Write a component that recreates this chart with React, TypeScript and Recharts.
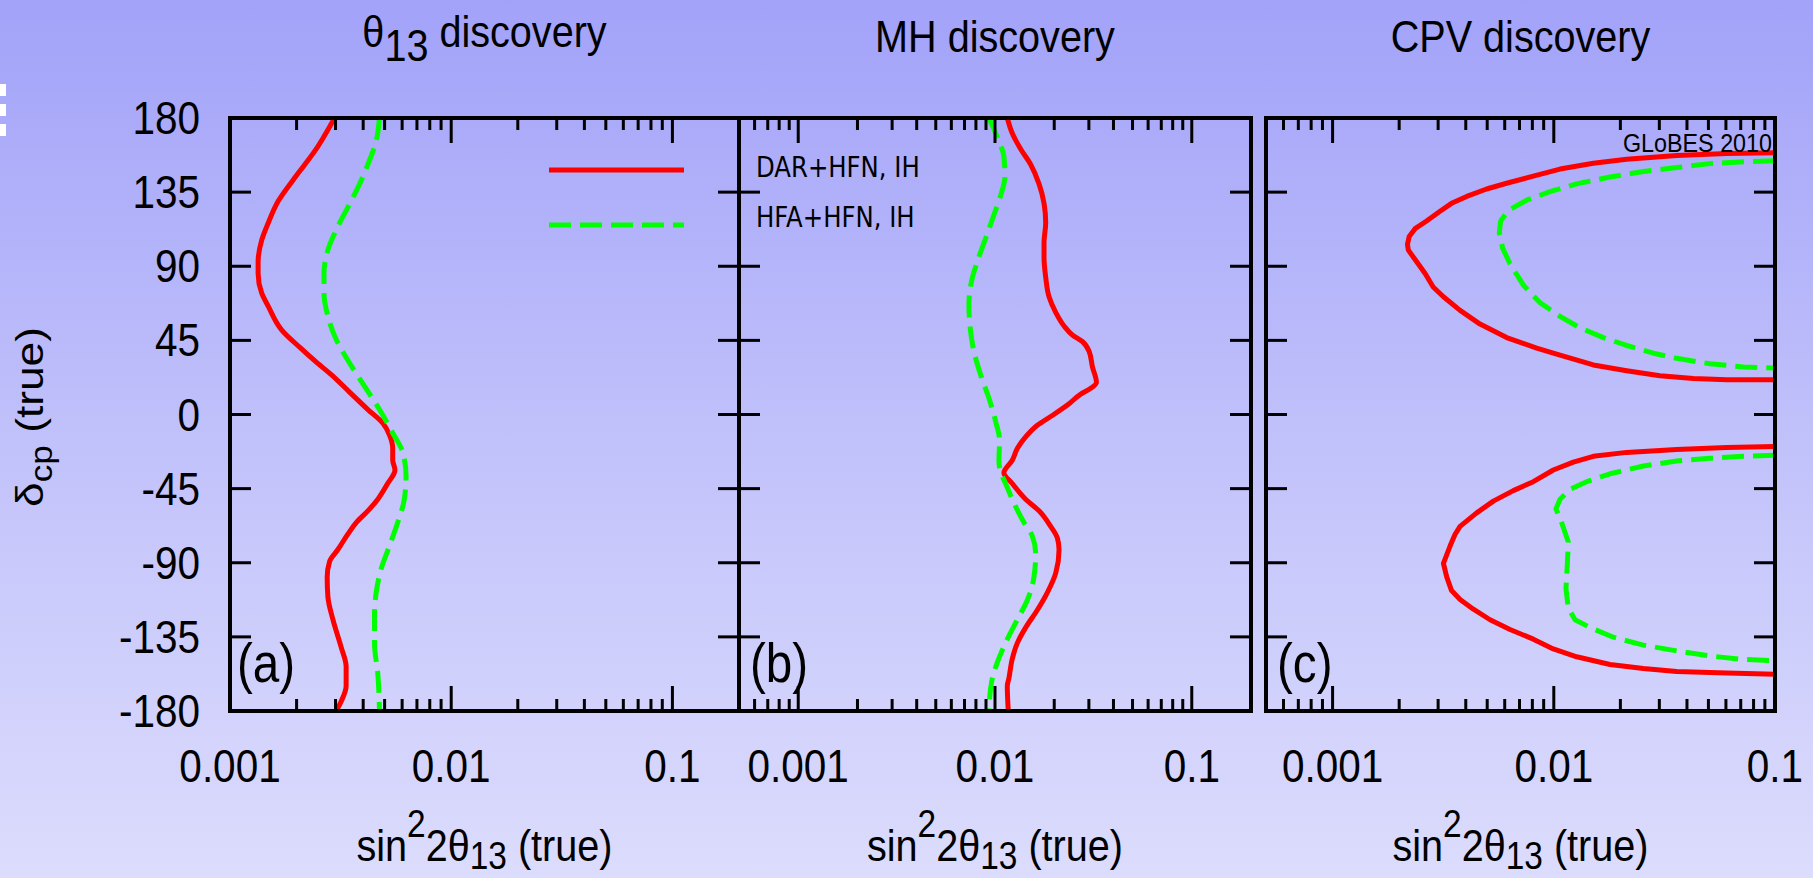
import React from 'react';
import { LineChart, Line, XAxis, YAxis } from 'recharts';

// page and plot frame
const W = 1813;
const H = 878;
const TOP = 118;
const BOTTOM = 711;
const AX = 1; // thickness reserved by each axis

// axis ticks
const deltaTicks = [-180, -135, -90, -45, 0, 45, 90, 135, 180];
const sLabels = [0.001, 0.01, 0.1];
const ticksA = [0.001, 0.002, 0.003, 0.004, 0.005, 0.006, 0.007, 0.008, 0.009, 0.01, 0.02, 0.03, 0.04, 0.05, 0.06, 0.07, 0.08, 0.09, 0.1];
const ticksB = [0.0006, 0.0007, 0.0008, 0.0009, 0.001, 0.002, 0.003, 0.004, 0.005, 0.006, 0.007, 0.008, 0.009, 0.01, 0.02, 0.03, 0.04, 0.05, 0.06, 0.07, 0.08, 0.09, 0.1];
const ticksC = [0.0006, 0.0007, 0.0008, 0.0009, 0.001, 0.002, 0.003, 0.004, 0.005, 0.006, 0.007, 0.008, 0.009, 0.01, 0.02, 0.03, 0.04, 0.05, 0.06, 0.07, 0.08, 0.09, 0.1];

// [sin^2 2theta13, delta_cp]
const thetaDar = [[0.00297, 180], [0.00268, 169.5], [0.00242, 160], [0.00218, 151.8], [0.00193, 142.4], [0.00165, 129.4], [0.00149, 116.4], [0.00139, 105.7], [0.00134, 92.7], [0.00134, 85.6], [0.00139, 73.8], [0.00149, 65.6], [0.00171, 51.4], [0.00207, 40.7], [0.00242, 32.5], [0.00287, 24.2], [0.00347, 13.6], [0.0042, 3], [0.00491, -5.3], [0.00526, -12.4], [0.00544, -20.7], [0.00544, -27.8], [0.00557, -33.7], [0.00516, -41.9], [0.00466, -51.4], [0.0042, -58.5], [0.00372, -65.6], [0.00341, -72.6], [0.00307, -82.1], [0.00282, -89.2], [0.00275, -98.6], [0.00277, -110.5], [0.00292, -124.6], [0.00318, -141.2], [0.00335, -153], [0.00335, -164.8], [0.00318, -174.2], [0.00302, -180]];
const thetaHfa = [[0.00474, 180], [0.00458, 166], [0.0042, 151.8], [0.00378, 137.6], [0.00341, 125.8], [0.00307, 114], [0.00277, 99.8], [0.00266, 85.6], [0.00266, 73.8], [0.00277, 59.7], [0.00302, 45.5], [0.00347, 31.3], [0.00406, 17.1], [0.00474, 3], [0.00544, -11.2], [0.00604, -23], [0.00625, -37.2], [0.00614, -51.4], [0.00573, -65.6], [0.00526, -79.7], [0.00482, -93.9], [0.00458, -108.1], [0.0045, -122.2], [0.0045, -138.8], [0.00466, -157.7], [0.00474, -180]];
const mhDar = [[0.01155, 180], [0.01224, 170.7], [0.0135, 161.2], [0.01518, 151.8], [0.01674, 140], [0.01775, 128.2], [0.0181, 116.4], [0.01775, 104.5], [0.01775, 95.1], [0.0181, 83.3], [0.01882, 71.5], [0.02035, 62], [0.02244, 53.7], [0.02474, 48.3], [0.0278, 44.3], [0.03007, 38.4], [0.03127, 28.9], [0.03277, 19.5], [0.03066, 15.9], [0.02728, 12.4], [0.02379, 6.5], [0.01956, -0.6], [0.01641, -6.5], [0.01431, -13.6], [0.01298, -20.7], [0.01224, -27.8], [0.0111, -35.3], [0.01224, -41.9], [0.01431, -51.4], [0.01674, -58.5], [0.01918, -67.9], [0.02075, -75], [0.02116, -82.1], [0.02035, -96.3], [0.01845, -108.1], [0.01641, -118.7], [0.01431, -129.4], [0.01298, -138.8], [0.01224, -148.3], [0.01177, -160.1], [0.01155, -164.8], [0.01168, -180]];
const mhHfa = [[0.00931, 180], [0.01027, 168.3], [0.0111, 156.5], [0.01124, 144.7], [0.01068, 132.9], [0.00987, 121.1], [0.00896, 106.9], [0.00812, 92.7], [0.0076, 80.9], [0.00737, 66.7], [0.00745, 54.9], [0.00781, 38.4], [0.00845, 24.2], [0.00931, 10], [0.01007, -4.1], [0.01055, -15.9], [0.01047, -27.8], [0.01068, -34.9], [0.01132, -41.9], [0.01249, -53.8], [0.01404, -65.6], [0.01548, -73.8], [0.0161, -84.5], [0.01578, -98.6], [0.01459, -112.8], [0.01298, -124.6], [0.01155, -136.4], [0.01027, -150.6], [0.00961, -162.4], [0.00931, -180]];
const cpvDarUpper = [[0.1, 158.9], [0.0605, 158.4], [0.03593, 157.2], [0.02135, 154.9], [0.01509, 152.5], [0.01067, 149], [0.00808, 144.7], [0.00612, 140.4], [0.00497, 136.9], [0.00404, 132.4], [0.00345, 128.2], [0.00306, 123.4], [0.00266, 117.5], [0.00236, 112.8], [0.00222, 108.1], [0.00218, 103.3], [0.0022, 99.8], [0.0024, 92.7], [0.00262, 85.6], [0.00285, 77.4], [0.00317, 71.5], [0.00377, 63.2], [0.00464, 54.9], [0.00612, 46.7], [0.00837, 40.3], [0.01067, 36], [0.01509, 30.1], [0.02135, 26.6], [0.0302, 23.5], [0.04274, 21.8], [0.0605, 21.1], [0.1, 21.1]];
const cpvHfaUpper = [[0.1, 154.1], [0.0719, 153.4], [0.0508, 152.3], [0.03593, 149.9], [0.02541, 147.5], [0.01795, 144.2], [0.01269, 140], [0.00961, 135.3], [0.00754, 130.1], [0.00623, 123.9], [0.00575, 117.5], [0.00567, 110.4], [0.00587, 101], [0.00634, 91.5], [0.00729, 78.5], [0.00866, 67.9], [0.01067, 59.6], [0.01314, 52.6], [0.01675, 46.7], [0.02135, 41.9], [0.02818, 37.2], [0.03593, 34.1], [0.0508, 30.8], [0.0719, 28.9], [0.1, 28.2]];
const cpvDarLower = [[0.1, -19.5], [0.0605, -20], [0.03593, -21.2], [0.02135, -23], [0.01509, -25.4], [0.01226, -28.9], [0.00995, -33.7], [0.00808, -40.8], [0.00656, -46.2], [0.00533, -52.6], [0.00448, -59.7], [0.00377, -67.9], [0.00358, -72.7], [0.0034, -79.7], [0.00317, -90.4], [0.00328, -98.6], [0.00345, -106.9], [0.00377, -112.3], [0.00433, -118.2], [0.00515, -124.6], [0.00634, -130.5], [0.00808, -136.4], [0.00995, -142.3], [0.01269, -147.1], [0.01795, -151.8], [0.02541, -154.2], [0.03593, -156], [0.0605, -157], [0.1, -157.7]];
const cpvHfaLower = [[0.1, -24.7], [0.0719, -25.4], [0.0508, -26.6], [0.03593, -28.2], [0.02541, -31.3], [0.01795, -36], [0.01408, -40.8], [0.01183, -45.5], [0.01067, -51.4], [0.01023, -57.3], [0.01085, -65.6], [0.01163, -77.4], [0.01151, -91.5], [0.01135, -105.7], [0.01163, -117.5], [0.01247, -124.6], [0.01458, -129.3], [0.01859, -135.2], [0.02541, -140], [0.03593, -143.5], [0.0508, -146.6], [0.0719, -148.7], [0.1, -149.4]];

const RED = '#ff0000';
const GREEN = '#00ff00';
const FONT = '"Liberation Sans", Arial, Helvetica, sans-serif';
const SX = 0.88;

const toRows = (pts: number[][]) => pts.map(([s, d]) => ({ s, d }));

type Series = { name: string; pts: number[][]; color: string; dashed: boolean };

const panels = [
  {
    id: 'a', left: 230, right: 739, domain: [0.001, 0.2], ticks: ticksA, yLabels: true, curve: 'monotoneY',
    series: [
      { name: 'thetaDar', pts: thetaDar, color: RED, dashed: false },
      { name: 'thetaHfa', pts: thetaHfa, color: GREEN, dashed: true },
    ] as Series[],
  },
  {
    id: 'b', left: 739, right: 1251, domain: [0.0005, 0.2], ticks: ticksB, yLabels: false, curve: 'monotoneY',
    series: [
      { name: 'mhDar', pts: mhDar, color: RED, dashed: false },
      { name: 'mhHfa', pts: mhHfa, color: GREEN, dashed: true },
    ] as Series[],
  },
  {
    id: 'c', left: 1266, right: 1775, domain: [0.0005, 0.1], ticks: ticksC, yLabels: false, curve: 'linear',
    series: [
      { name: 'cpvDarUpper', pts: cpvDarUpper, color: RED, dashed: false },
      { name: 'cpvHfaUpper', pts: cpvHfaUpper, color: GREEN, dashed: true },
      { name: 'cpvDarLower', pts: cpvDarLower, color: RED, dashed: false },
      { name: 'cpvHfaLower', pts: cpvHfaLower, color: GREEN, dashed: true },
    ] as Series[],
  },
];

const Condensed = ({ x, y, size, anchor = 'start', children, family = FONT, k = SX }: any) => (
  <text transform={`translate(${x},${y}) scale(${k},1)`} fontSize={size} fontFamily={family} textAnchor={anchor} fill="#000">
    {children}
  </text>
);

const bottomTick = (props: any) => {
  const { x, payload } = props;
  const major = sLabels.includes(payload.value);
  return (
    <g>
      <line x1={x} x2={x} y1={BOTTOM} y2={BOTTOM - (major ? 25 : 12)} stroke="#000" strokeWidth={3} />
      {major && <Condensed x={x} y={782} size={46} anchor="middle">{String(payload.value)}</Condensed>}
    </g>
  );
};

const topTick = (props: any) => {
  const { x, payload } = props;
  const major = sLabels.includes(payload.value);
  return <line x1={x} x2={x} y1={TOP} y2={TOP + (major ? 25 : 12)} stroke="#000" strokeWidth={3} />;
};

const leftTick = (left: number, labels: boolean) => (props: any) => {
  const { y, payload } = props;
  return (
    <g>
      <line x1={left} x2={left + 21} y1={y} y2={y} stroke="#000" strokeWidth={3} />
      {labels && <Condensed x={200} y={y + 16} size={46} anchor="end">{String(payload.value)}</Condensed>}
    </g>
  );
};

const rightTick = (right: number) => (props: any) => {
  const { y } = props;
  return <line x1={right} x2={right - 21} y1={y} y2={y} stroke="#000" strokeWidth={3} />;
};

const Frame = ({ left, right }: { left: number; right: number }) => (
  <rect x={left} y={TOP} width={right - left} height={BOTTOM - TOP} fill="none" stroke="#000" strokeWidth={4} />
);

const Panel = ({ p }: { p: (typeof panels)[number] }) => (
  <div style={{ position: 'absolute', left: 0, top: 0 }}>
    <LineChart width={W} height={H} margin={{ top: TOP - AX, bottom: H - BOTTOM - AX, left: p.left - AX, right: W - p.right - AX }}>
      <XAxis xAxisId="bottom" orientation="bottom" dataKey="s" type="number" scale="log" domain={p.domain} allowDataOverflow
        ticks={p.ticks} interval={0} height={AX} tickSize={0} tickMargin={0} tickLine={false} axisLine={false} tick={bottomTick} />
      <XAxis xAxisId="top" orientation="top" dataKey="s" type="number" scale="log" domain={p.domain} allowDataOverflow
        ticks={p.ticks} interval={0} height={AX} tickSize={0} tickMargin={0} tickLine={false} axisLine={false} tick={topTick} />
      <YAxis yAxisId="left" orientation="left" type="number" domain={[-180, 180]} allowDataOverflow ticks={deltaTicks}
        interval={0} width={AX} tickSize={0} tickMargin={0} tickLine={false} axisLine={false} tick={leftTick(p.left, p.yLabels)} />
      <YAxis yAxisId="right" orientation="right" type="number" domain={[-180, 180]} allowDataOverflow ticks={deltaTicks}
        interval={0} width={AX} tickSize={0} tickMargin={0} tickLine={false} axisLine={false} tick={rightTick(p.right)} />
      {p.series.map((s) => (
        <Line key={s.name} name={s.name} data={toRows(s.pts)} dataKey="d" xAxisId="bottom" yAxisId="left" type={p.curve as any}
          stroke={s.color} strokeWidth={5} strokeDasharray={s.dashed ? '22 9' : undefined} strokeLinejoin="round"
          dot={false} activeDot={false} isAnimationActive={false} />
      ))}
    </LineChart>
  </div>
);

const AxisTitle = ({ cx }: { cx: number }) => (
  <text transform={`translate(${cx},861) scale(${SX},1)`} fontSize={45} fontFamily={FONT} textAnchor="middle" fill="#000">
    sin<tspan fontSize={38} dy={-24}>2</tspan><tspan dy={24}>2θ</tspan><tspan fontSize={38} dy={8}>13</tspan><tspan dy={-8}> (true)</tspan>
  </text>
);

export default function App() {
  return (
    <div style={{ position: 'absolute', left: 0, top: 0, width: W, height: H, overflow: 'hidden',
      background: 'linear-gradient(180deg, #a2a2f9 0%, #c4c4fb 55%, #dcdcfd 100%)' }}>
      {panels.map((p) => <Panel key={p.id} p={p} />)}
      <svg width={W} height={H} style={{ position: 'absolute', left: 0, top: 0, pointerEvents: 'none' }}>
        {/* frames */}
        {panels.map((p) => <Frame key={p.id} left={p.left} right={p.right} />)}

        {/* titles */}
        <text transform={`translate(484.5,47) scale(${SX},1)`} fontSize={45} fontFamily={FONT} textAnchor="middle" fill="#000">
          θ<tspan dy={14}>13</tspan><tspan dy={-14}> discovery</tspan>
        </text>
        <Condensed x={995} y={52} size={45} anchor="middle">MH discovery</Condensed>
        <Condensed x={1520.5} y={52} size={45} anchor="middle">CPV discovery</Condensed>

        {/* axis titles */}
        <AxisTitle cx={484.5} />
        <AxisTitle cx={995} />
        <AxisTitle cx={1520.5} />
        <text transform="translate(43,417) rotate(-90) scale(1.136,1)" fontSize={39} fontFamily={FONT} textAnchor="middle" fill="#000">
          δ<tspan fontSize={31} dy={9}>cp</tspan><tspan dy={-9}> (true)</tspan>
        </text>

        {/* panel tags */}
        <Condensed x={237} y={682} size={56} k={0.85}>(a)</Condensed>
        <Condensed x={750} y={682} size={56} k={0.85}>(b)</Condensed>
        <Condensed x={1277} y={682} size={56} k={0.85}>(c)</Condensed>
        <Condensed x={1772} y={152} size={26.5} anchor="end">GLoBES 2010</Condensed>

        {/* legend */}
        <line x1={549} x2={684} y1={170} y2={170} stroke={RED} strokeWidth={5} />
        <line x1={549} x2={684} y1={225} y2={225} stroke={GREEN} strokeWidth={5} strokeDasharray="22 9" />
        <Condensed x={756} y={177} size={28} family='"DejaVu Sans", Verdana, sans-serif' k={0.87}>DAR+HFN, IH</Condensed>
        <Condensed x={756} y={227} size={28} family='"DejaVu Sans", Verdana, sans-serif' k={0.87}>HFA+HFN, IH</Condensed>

        {/* clipped white mark at the left edge */}
        <line x1={3} x2={3} y1={84} y2={143} stroke="#ffffff" strokeWidth={6} strokeDasharray="12 8" />
      </svg>
    </div>
  );
}
